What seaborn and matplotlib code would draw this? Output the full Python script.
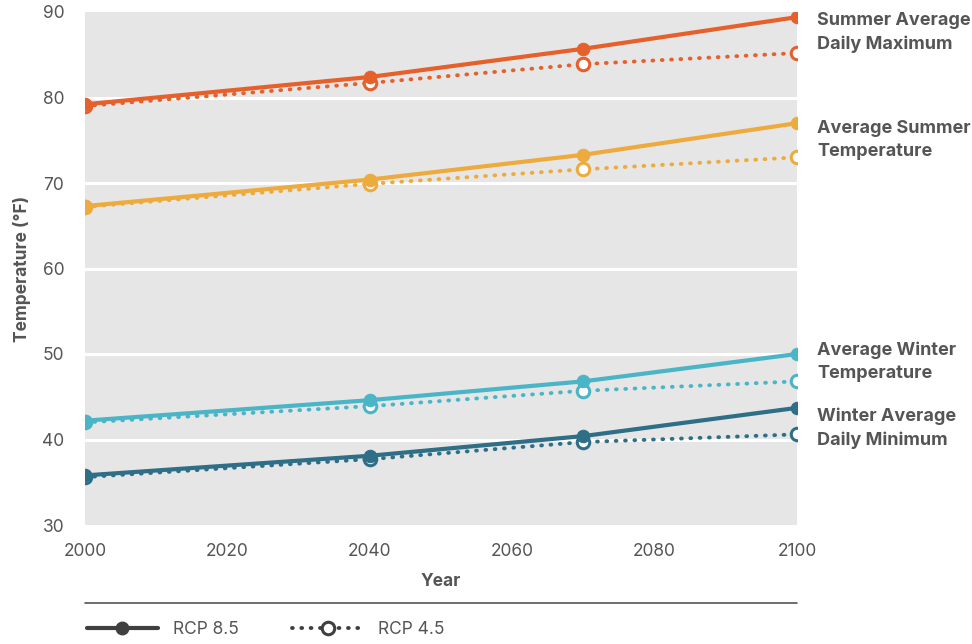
import matplotlib
matplotlib.use("Agg")
import matplotlib.pyplot as plt
import seaborn as sns
import pandas as pd
from matplotlib.lines import Line2D

years = [2000, 2040, 2070, 2100]
series_names = ["Summer Average\nDaily Maximum", "Average Summer\nTemperature",
                "Average Winter\nTemperature", "Winter Average\nDaily Minimum"]
colors = ["#E5602B", "#EDAB3E", "#4AB5C6", "#2F6E87"]
rcp85 = [
    [79.2, 82.4, 85.7, 89.4],
    [67.3, 70.4, 73.3, 77.0],
    [42.2, 44.6, 46.8, 50.0],
    [35.8, 38.1, 40.4, 43.7],
]
rcp45 = [
    [79.0, 81.7, 83.9, 85.2],
    [67.2, 69.9, 71.6, 73.0],
    [42.0, 43.9, 45.7, 46.8],
    [35.6, 37.7, 39.7, 40.6],
]
label_y = [87.6, 75.0, 49.1, 41.3]
yticks = [30, 40, 50, 60, 70, 80, 90]
xticks = [2000, 2020, 2040, 2060, 2080, 2100]

sns.set_theme(style="white")
plt.rcParams['font.family'] = ['Inter', 'DejaVu Sans']

fig = plt.figure(figsize=(9.72, 6.44), dpi=100)
ax = fig.add_axes([85/972, 1-525/644, (797-85)/972, (525-12)/644])
ax.set_facecolor("#E6E6E6")

rows = []
for name, a, b in zip(series_names, rcp85, rcp45):
    for y, v in zip(years, a):
        rows.append(dict(series=name, scenario="RCP 8.5", year=y, temp=v))
    for y, v in zip(years, b):
        rows.append(dict(series=name, scenario="RCP 4.5", year=y, temp=v))
df = pd.DataFrame(rows)

dot_style = (0, (0.2, 2.2))
for name, c in zip(series_names, colors):
    d85 = df[(df.series == name) & (df.scenario == "RCP 8.5")]
    d45 = df[(df.series == name) & (df.scenario == "RCP 4.5")]
    sns.lineplot(data=d45, x="year", y="temp", ax=ax, color=c, lw=2.8,
                 linestyle=dot_style, dash_capstyle="round",
                 marker="o", markersize=9, markerfacecolor="white",
                 markeredgecolor=c, markeredgewidth=2.2, zorder=3)
    sns.lineplot(data=d85, x="year", y="temp", ax=ax, color=c, lw=3.0,
                 marker="o", markersize=9, markeredgecolor=c, zorder=4)

for yv in [40, 50, 60, 70, 80]:
    ax.axhline(yv, color="white", lw=2.2, zorder=1)

ax.set_xlim(2000, 2100)
ax.set_ylim(30, 90)
ax.set_xticks(xticks)
ax.set_yticks(yticks)
for s in ax.spines.values():
    s.set_visible(False)
ax.tick_params(axis="both", length=0, labelsize=12.5, labelcolor="#555555")
ax.tick_params(axis="x", pad=13)
ax.tick_params(axis="y", pad=15)
ax.set_xlabel("Year", fontsize=12.5, fontweight="bold", color="#555555", labelpad=9)
ax.set_ylabel("Temperature (°F)", fontsize=12.5, fontweight="bold", color="#555555", labelpad=8)
ax.grid(False)

for name, ly in zip(series_names, label_y):
    ax.text(1.028, ly, name, transform=ax.get_yaxis_transform(), fontsize=13,
            fontweight="bold", color="#555555", va="center", ha="left",
            linespacing=1.45, clip_on=False)

fig.add_artist(Line2D([85/972, 797/972], [1-603/644, 1-603/644], color="#555555", lw=1.2))

h1 = Line2D([], [], color="#3F3F3F", lw=3, marker="o", markersize=9)
h2 = Line2D([], [], color="#3F3F3F", lw=2.8, linestyle=dot_style, dash_capstyle="round",
            marker="o", markersize=9, markerfacecolor="white", markeredgewidth=2.2)
leg = fig.legend([h1, h2], ["RCP 8.5", "RCP 4.5"], loc="center left",
                 bbox_to_anchor=(71/972, 1-630/644), ncol=2, frameon=False,
                 fontsize=12.5, handlelength=4.1, columnspacing=3.1, handletextpad=0.85,
                 labelcolor="#555555")

fig.savefig("out.png", dpi=100)
